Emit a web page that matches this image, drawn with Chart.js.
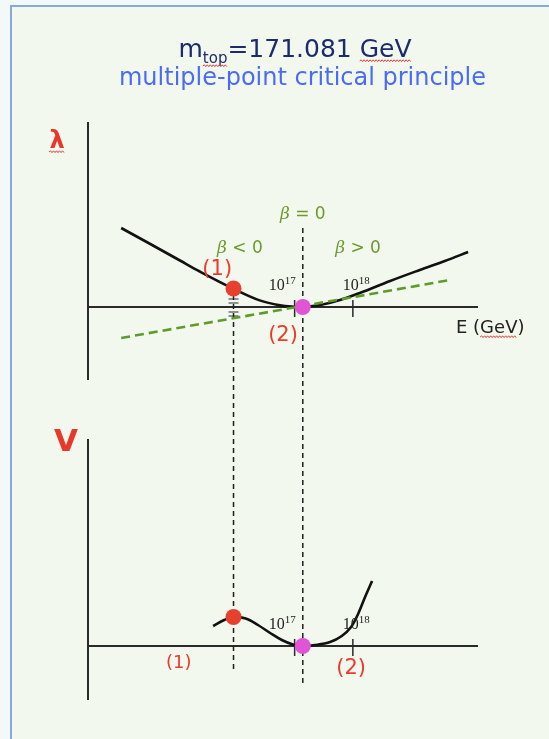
<!DOCTYPE html>
<html><head><meta charset="utf-8">
<script src="https://cdn.jsdelivr.net/npm/chart.js@4.4.0/dist/chart.umd.min.js"></script>
<style>
html,body{margin:0;padding:0;background:#f3f8f8;}
#wrap{position:relative;width:549px;height:739px;overflow:hidden;}
#slide{position:absolute;left:10px;top:5px;right:0;bottom:0;background:#f3f8ee;border-top:2px solid #86a8dc;border-left:2px solid #86a8dc;}
#c{position:absolute;left:0;top:0;}
</style></head><body>
<div id="wrap"><div id="slide"></div><canvas id="c" width="549" height="739"></canvas></div>
<script>
// ---- data (x = log10 E/GeV) ----
const tickExponents = [17, 18];
const lambdaLogE   = [14.02, 14.52, 15.03, 15.37, 15.94, 16.40, 16.75, 17.01, 17.14, 17.44, 17.78, 18.12, 18.64, 19.15, 19.58, 19.98];
const lambdaValues = [0.79, 0.63, 0.465, 0.355, 0.185, 0.066, 0.016, 0.002, 0.0, 0.02, 0.07, 0.14, 0.26, 0.37, 0.46, 0.55];
const betaLogE     = [14.02, 19.67];
const betaValues   = [-0.31, 0.27];
const potentialLogE   = [15.60, 15.79, 15.95, 16.16, 16.37, 16.58, 16.78, 16.97, 17.14, 17.35, 17.61, 17.81, 17.97, 18.09, 18.21, 18.33];
const potentialValues = [2.0, 2.6, 2.9, 2.75, 2.1, 1.3, 0.6, 0.15, 0.0, 0.1, 0.4, 1.0, 1.9, 3.2, 4.9, 6.5];
const pointLogE          = [15.95, 17.14];   // points (1) and (2)
const lambdaAtPoints     = [0.185, 0.0];
const potentialAtPoints  = [2.9, 0.0];
const guideLambdaTop       = [0.12, 0.79];   // where the vertical dashed guides start (λ units)
const guidePotentialBottom = [-2.4, -3.7];   // where they end (V units)
const lambdaAxisRange    = [-0.73, 1.85];
const potentialAxisRange = [-5.4, 20.7];

const pointColors = ['#e8402f', '#df55d6'];

// ---- labels placed in data units ----
const annotations = [
  {text:'(1)', x:15.67, y:0.37, axis:'yL', font:'21px "DejaVu Sans"', color:'#ee3a2b'},
  {text:'(2)', x:16.80, y:-0.29, axis:'yL', font:'21px "DejaVu Sans"', color:'#ee3a2b'},
  {text:'(1)', x:15.01, y:-1.7, axis:'yV', font:'18px "DejaVu Sans"', color:'#ee3a2b'},
  {text:'(2)', x:17.97, y:-2.3, axis:'yV', font:'21px "DejaVu Sans"', color:'#ee3a2b'}
];
const betaLabels = [
  {rest:' = 0', x:17.14, y:0.94},
  {rest:' < 0', x:16.06, y:0.60},
  {rest:' > 0', x:18.09, y:0.60}
];

function squiggle(ctx, x1, x2, y) {
  ctx.save();
  ctx.strokeStyle = '#e23a3a'; ctx.lineWidth = 1;
  ctx.beginPath();
  let up = true;
  ctx.moveTo(x1, y);
  for (let x = x1 + 1.5; x <= x2; x += 1.5) { ctx.lineTo(x, up ? y - 1.2 : y + 0.6); up = !up; }
  ctx.stroke();
  ctx.restore();
}
function drawRuns(ctx, runs, cx, baseline, align) {
  let total = 0;
  runs.forEach(r => { ctx.font = r.font; r.w = ctx.measureText(r.text).width; total += r.w; });
  let x = align === 'left' ? cx : cx - total / 2;
  ctx.textAlign = 'left'; ctx.textBaseline = 'alphabetic';
  runs.forEach(r => {
    ctx.font = r.font; ctx.fillStyle = r.color;
    ctx.fillText(r.text, x, baseline + (r.dy || 0));
    r.x0 = x; r.x1 = x + r.w;
    x += r.w;
  });
  return runs;
}

const diagram = {
  id: 'diagram',
  beforeDatasetsDraw(chart) {
    const ctx = chart.ctx, xs = chart.scales.x, yL = chart.scales.yL, yV = chart.scales.yV;
    ctx.save();
    // axes
    ctx.strokeStyle = '#2a2a2a'; ctx.lineWidth = 2; ctx.lineCap = 'butt';
    ctx.beginPath();
    ctx.moveTo(xs.left, yL.getPixelForValue(lambdaAxisRange[1]));
    ctx.lineTo(xs.left, yL.getPixelForValue(lambdaAxisRange[0]));
    ctx.moveTo(xs.left, yL.getPixelForValue(0)); ctx.lineTo(xs.right, yL.getPixelForValue(0));
    ctx.moveTo(xs.left, yV.getPixelForValue(potentialAxisRange[1]));
    ctx.lineTo(xs.left, yV.getPixelForValue(potentialAxisRange[0]));
    ctx.moveTo(xs.left, yV.getPixelForValue(0)); ctx.lineTo(xs.right, yV.getPixelForValue(0));
    ctx.stroke();
    // ticks at 10^17, 10^18
    ctx.lineWidth = 1.5;
    ctx.beginPath();
    [yL.getPixelForValue(0), yV.getPixelForValue(0)].forEach(ay => {
      tickExponents.forEach(e => {
        const px = xs.getPixelForValue(e);
        ctx.moveTo(px, ay - 7); ctx.lineTo(px, ay + 10);
      });
    });
    ctx.stroke();
    // small hash marks at point (1) on lambda axis
    const hx = xs.getPixelForValue(pointLogE[0]), hy = yL.getPixelForValue(0);
    ctx.lineWidth = 1.2;
    ctx.beginPath();
    [-8, -4, 5, 9].forEach(d => { ctx.moveTo(hx - 5, hy + d); ctx.lineTo(hx + 5, hy + d); });
    ctx.stroke();
    // vertical dashed guides
    ctx.strokeStyle = '#1e1e1e'; ctx.lineWidth = 1.5; ctx.setLineDash([5, 4]);
    pointLogE.forEach((e, i) => {
      const px = xs.getPixelForValue(e);
      ctx.beginPath();
      ctx.moveTo(px, yL.getPixelForValue(guideLambdaTop[i]));
      ctx.lineTo(px, yV.getPixelForValue(guidePotentialBottom[i]));
      ctx.stroke();
    });
    ctx.restore();
  },
  afterDraw(chart) {
    const ctx = chart.ctx, xs = chart.scales.x, yL = chart.scales.yL, yV = chart.scales.yV;
    ctx.save();
    // title
    const t1 = drawRuns(ctx, [
      {text:'m', font:'25px "DejaVu Sans"', color:'#1c2b6e'},
      {text:'top', font:'15px "DejaVu Sans"', color:'#1c2b6e', dy:6},
      {text:'=171.081 ', font:'25px "DejaVu Sans"', color:'#1c2b6e'},
      {text:'GeV', font:'25px "DejaVu Sans"', color:'#1c2b6e'}
    ], 295, 57);
    squiggle(ctx, t1[1].x0, t1[1].x1, 66);
    squiggle(ctx, t1[3].x0, t1[3].x1, 61);
    drawRuns(ctx, [{text:'multiple-point critical principle', font:'24px "DejaVu Sans"', color:'#4a6cf2'}], 302.5, 85);
    // axis titles
    ctx.textAlign = 'center'; ctx.textBaseline = 'alphabetic';
    ctx.fillStyle = '#e8382a';
    ctx.font = 'bold 24px "DejaVu Sans"';
    const lx = xs.left - 31, lb = yL.getPixelForValue(lambdaAxisRange[1]) + 26;
    ctx.fillText('λ', lx, lb);
    squiggle(ctx, lx - 8, lx + 8, lb + 4);
    ctx.font = 'bold 31px "DejaVu Sans"';
    ctx.fillText('V', xs.left - 22, yV.getPixelForValue(potentialAxisRange[1]) + 12);
    const er = drawRuns(ctx, [
      {text:'E (', font:'18px "DejaVu Sans"', color:'#222'},
      {text:'GeV', font:'18px "DejaVu Sans"', color:'#222'},
      {text:')', font:'18px "DejaVu Sans"', color:'#222'}
    ], xs.right - 22, yL.getPixelForValue(0) + 26, 'left');
    squiggle(ctx, er[1].x0, er[1].x1, yL.getPixelForValue(0) + 30);
    // tick labels 10^n
    const dx = [-26, -10];
    [yL.getPixelForValue(0), yV.getPixelForValue(0)].forEach(ay => {
      tickExponents.forEach((e, i) => {
        const px = xs.getPixelForValue(e) + dx[i];
        drawRuns(ctx, [
          {text:'10', font:'16px "Liberation Serif"', color:'#222'},
          {text:String(e), font:'11px "Liberation Serif"', color:'#222', dy:-6}
        ], px, ay - 17, 'left');
      });
    });
    // beta labels
    betaLabels.forEach(b => {
      const runs = [
        {text:'β', font:'italic 17px "DejaVu Serif"', color:'#6b9b2c'},
        {text:b.rest, font:'17px "DejaVu Sans"', color:'#6b9b2c'}
      ];
      drawRuns(ctx, runs, xs.getPixelForValue(b.x), yL.getPixelForValue(b.y) + 6);
    });
    // (1) (2)
    annotations.forEach(a => {
      const sc = chart.scales[a.axis];
      ctx.font = a.font; ctx.fillStyle = a.color; ctx.textAlign = 'center'; ctx.textBaseline = 'middle';
      ctx.fillText(a.text, xs.getPixelForValue(a.x), sc.getPixelForValue(a.y));
    });
    ctx.restore();
  }
};

const xy = (xs, ys) => xs.map((x, i) => ({x, y: ys[i]}));

new Chart(document.getElementById('c'), {
  type: 'line',
  data: {
    datasets: [
      {data: xy(pointLogE, lambdaAtPoints), yAxisID:'yL', showLine:false, pointRadius:8, pointBorderWidth:0,
       pointBackgroundColor: pointColors, order:0},
      {data: xy(pointLogE, potentialAtPoints), yAxisID:'yV', showLine:false, pointRadius:8, pointBorderWidth:0,
       pointBackgroundColor: pointColors, order:0},
      {data: xy(lambdaLogE, lambdaValues), yAxisID:'yL', borderColor:'#111', borderWidth:2.6, pointRadius:0,
       tension:0.35, order:2},
      {data: xy(betaLogE, betaValues), yAxisID:'yL', borderColor:'#5d9c2a', borderWidth:2.6, borderDash:[9,5],
       pointRadius:0, order:1},
      {data: xy(potentialLogE, potentialValues), yAxisID:'yV', borderColor:'#111', borderWidth:2.6, pointRadius:0,
       tension:0.35, order:2}
    ]
  },
  options: {
    responsive: false,
    animation: false,
    devicePixelRatio: 1,
    layout: {padding: {left: 88, right: 71, top: 122, bottom: 39}},
    plugins: {legend: {display:false}, tooltip: {enabled:false}, title: {display:false}},
    scales: {
      x:  {type:'linear', min:13.45, max:20.15, display:false},
      yL: {type:'linear', min:-3.93, max:1.85, display:false},
      yV: {type:'linear', min:-5.4, max:52.4, display:false}
    }
  },
  plugins: [diagram]
});
</script>
</body></html>
